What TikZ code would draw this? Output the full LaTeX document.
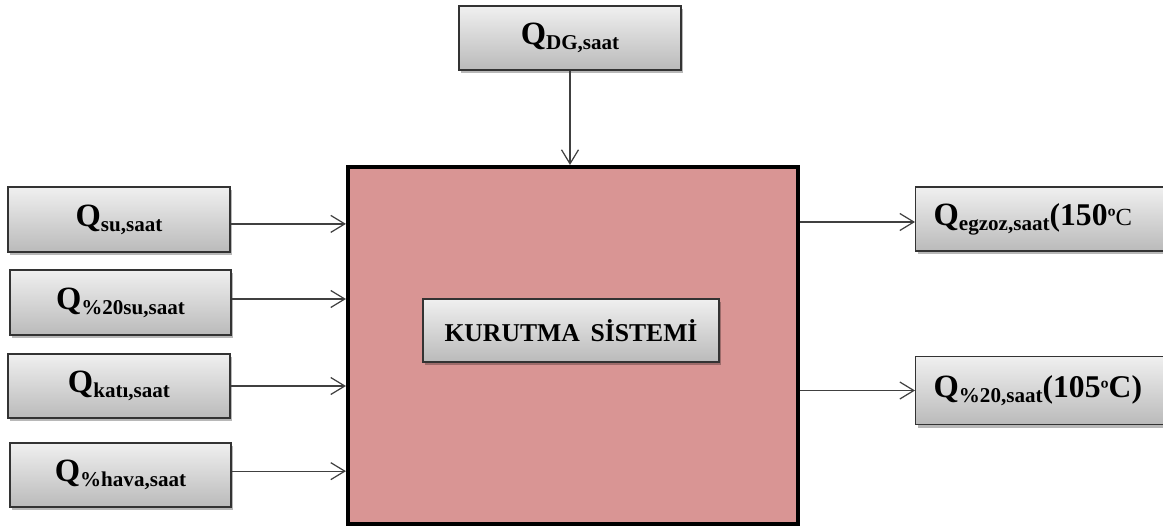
\documentclass[tikz,border=0pt]{standalone}
\usepackage{fontspec}
\setmainfont{Liberation Serif}
\usetikzlibrary{arrows.meta,shadows}

% Q with a subscript, as used in every flow label
\newcommand\qsub[1]{{\fontsize{18.5}{18.5}\selectfont Q}\raisebox{-2.8pt}{\fontsize{12}{12}\selectfont #1}}
\newcommand\bigtxt[1]{{\fontsize{18}{18}\selectfont #1}}

\begin{document}
\begin{tikzpicture}[x=0.02cm,y=-0.02cm,
  flowbox/.style={draw=black!80, line width=0.7pt, top color=black!6, bottom color=black!27,
    drop shadow={shadow xshift=1.2pt, shadow yshift=-1.8pt, opacity=0.28, fill=black},
    inner sep=0pt, font=\bfseries},
  sysbox/.style={draw=black, line width=2.4pt, fill=sysfill, inner sep=0pt},
  flow/.style={draw=black!75, line width=0.7pt, -{Straight Barb[length=0.28cm,width=0.34cm,line width=0.7pt]}}
]
\definecolor{sysfill}{HTML}{D99594}
\useasboundingbox (0,0) rectangle (1163,529);
\clip (0,0) rectangle (1163,529);

% drying system
\node[sysbox, minimum width=9.0cm, minimum height=7.14cm] (sys) at (573,345.5) {};
\node[flowbox, minimum width=5.92cm, minimum height=1.26cm] (name) at (571,330.5)
  {\fontsize{14.6}{15}\selectfont KURUTMA\, S\.ISTEM\.I};

% heat input from above
\node[flowbox, minimum width=4.44cm, minimum height=1.28cm] (dg) at (570,38) {\qsub{DG,saat}};

% inputs on the left
\node[flowbox, minimum width=4.44cm, minimum height=1.30cm] (in1) at (119,219.5) {\qsub{su,saat}};
\node[flowbox, minimum width=4.42cm, minimum height=1.30cm] (in2) at (120.5,302.5) {\qsub{\%20su,saat}};
\node[flowbox, minimum width=4.44cm, minimum height=1.28cm] (in3) at (119,386) {\qsub{katı,saat}};
\node[flowbox, minimum width=4.42cm, minimum height=1.28cm] (in4) at (120.5,475) {\qsub{\%hava,saat}};

% outputs on the right
\node[flowbox, anchor=west, text width=5.0cm, inner xsep=0.36cm, minimum height=1.28cm, align=left]
  (out1) at (915,219) {\qsub{egzoz,saat}\bigtxt{(150}{\fontsize{14}{14}\selectfont º\mdseries C}};
\node[flowbox, anchor=west, text width=5.0cm, inner xsep=0.36cm, minimum height=1.36cm, align=left]
  (out2) at (915,390.5) {\qsub{\%20,saat}\bigtxt{(105}{\fontsize{14}{14}\selectfont º}\bigtxt{C)}};

% connectors
\draw[flow] (dg.south) -- (dg.south |- sys.north);
\draw[flow] ([yshift=-2.5pt]in1.east) -- ([yshift=-2.5pt]in1.east -| sys.west);
\draw[flow] ([yshift=2pt]in2.east) -- ([yshift=2pt]in2.east -| sys.west);
\draw[flow] (in3.east) -- (in3.east -| sys.west);
\draw[flow] ([yshift=2.2pt]in4.east) -- ([yshift=2.2pt]in4.east -| sys.west);
\draw[flow] ([yshift=-1.7pt]out1.west -| sys.east) -- ([yshift=-1.7pt]out1.west);
\draw[flow] (out2.west -| sys.east) -- (out2.west);
\end{tikzpicture}
\end{document}
